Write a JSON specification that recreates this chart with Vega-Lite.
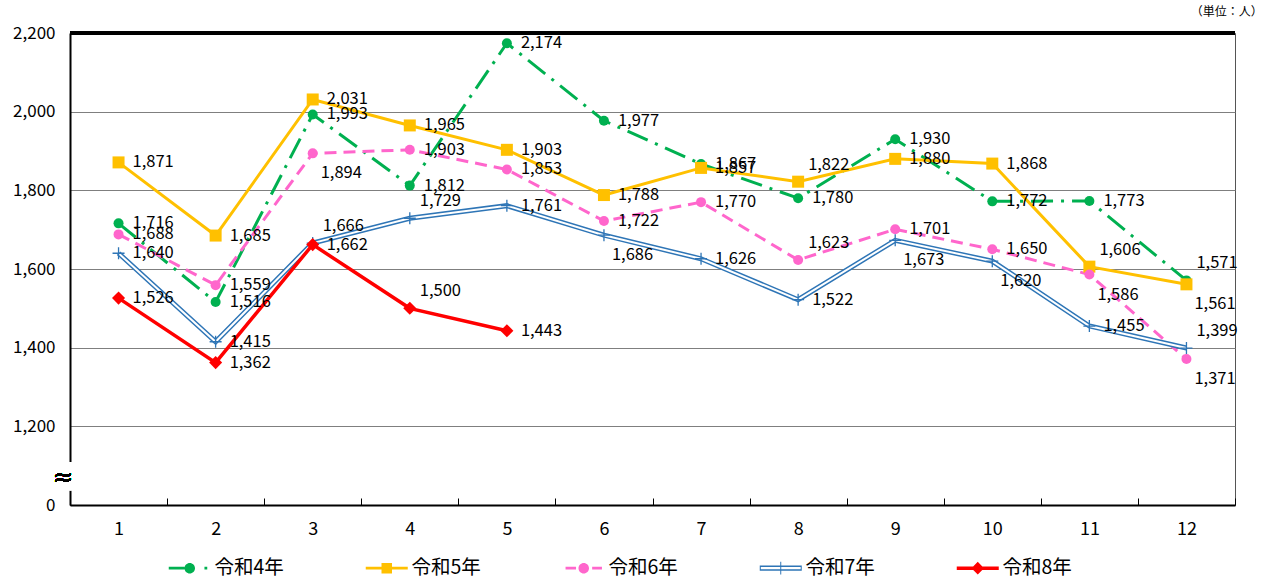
{
  "$schema": "https://vega.github.io/schema/vega-lite/v6.json",
  "width": 1165,
  "height": 472,
  "autosize": {"type": "none"},
  "padding": {"left": 70, "top": 33, "right": 30, "bottom": 77},
  "background": "white",
  "config": {
    "font": "Noto Sans CJK JP",
    "view": {"stroke": "#555555", "strokeWidth": 1},
    "axis": {"labelFont": "Noto Sans CJK JP", "labelColor": "#000000", "title": null}
  },
  "title": {"text": "（単位：人）", "anchor": "end", "fontSize": 12, "fontWeight": "normal", "font": "Noto Sans CJK JP", "color": "#000000", "dx": 25, "offset": 5},
  "data": {"values": [
    {"s": "令和4年", "m": 1, "v": 1716}, {"s": "令和4年", "m": 2, "v": 1516}, {"s": "令和4年", "m": 3, "v": 1993}, {"s": "令和4年", "m": 4, "v": 1812},
    {"s": "令和4年", "m": 5, "v": 2174}, {"s": "令和4年", "m": 6, "v": 1977}, {"s": "令和4年", "m": 7, "v": 1867}, {"s": "令和4年", "m": 8, "v": 1780},
    {"s": "令和4年", "m": 9, "v": 1930}, {"s": "令和4年", "m": 10, "v": 1772}, {"s": "令和4年", "m": 11, "v": 1773}, {"s": "令和4年", "m": 12, "v": 1571},
    {"s": "令和5年", "m": 1, "v": 1871}, {"s": "令和5年", "m": 2, "v": 1685}, {"s": "令和5年", "m": 3, "v": 2031}, {"s": "令和5年", "m": 4, "v": 1965},
    {"s": "令和5年", "m": 5, "v": 1903}, {"s": "令和5年", "m": 6, "v": 1788}, {"s": "令和5年", "m": 7, "v": 1857}, {"s": "令和5年", "m": 8, "v": 1822},
    {"s": "令和5年", "m": 9, "v": 1880}, {"s": "令和5年", "m": 10, "v": 1868}, {"s": "令和5年", "m": 11, "v": 1606}, {"s": "令和5年", "m": 12, "v": 1561},
    {"s": "令和6年", "m": 1, "v": 1688}, {"s": "令和6年", "m": 2, "v": 1559}, {"s": "令和6年", "m": 3, "v": 1894}, {"s": "令和6年", "m": 4, "v": 1903},
    {"s": "令和6年", "m": 5, "v": 1853}, {"s": "令和6年", "m": 6, "v": 1722}, {"s": "令和6年", "m": 7, "v": 1770}, {"s": "令和6年", "m": 8, "v": 1623},
    {"s": "令和6年", "m": 9, "v": 1701}, {"s": "令和6年", "m": 10, "v": 1650}, {"s": "令和6年", "m": 11, "v": 1586}, {"s": "令和6年", "m": 12, "v": 1371},
    {"s": "令和7年", "m": 1, "v": 1640}, {"s": "令和7年", "m": 2, "v": 1415}, {"s": "令和7年", "m": 3, "v": 1666}, {"s": "令和7年", "m": 4, "v": 1729},
    {"s": "令和7年", "m": 5, "v": 1761}, {"s": "令和7年", "m": 6, "v": 1686}, {"s": "令和7年", "m": 7, "v": 1626}, {"s": "令和7年", "m": 8, "v": 1522},
    {"s": "令和7年", "m": 9, "v": 1673}, {"s": "令和7年", "m": 10, "v": 1620}, {"s": "令和7年", "m": 11, "v": 1455}, {"s": "令和7年", "m": 12, "v": 1399},
    {"s": "令和8年", "m": 1, "v": 1526}, {"s": "令和8年", "m": 2, "v": 1362}, {"s": "令和8年", "m": 3, "v": 1662}, {"s": "令和8年", "m": 4, "v": 1500},
    {"s": "令和8年", "m": 5, "v": 1443}
  ]},
  "layer": [
    {
      "transform": [{"filter": "datum.s == '令和4年'"}],
      "mark": {"type": "line", "color": "#00B050", "strokeWidth": 3, "strokeDash": [22, 8, 3, 8]},
      "encoding": {
        "x": {"field": "m", "type": "ordinal", "bandPosition": 0.5,
          "scale": {"type": "band", "paddingInner": 0, "paddingOuter": 0, "domain": [1,2,3,4,5,6,7,8,9,10,11,12]},
          "axis": {"labelAngle": 0, "labelFontSize": 18, "tickBand": "extent", "tickSize": -7, "tickColor": "#000000", "tickWidth": 1, "domainColor": "#000000", "domainWidth": 2, "labelPadding": 22, "grid": false, "zindex": 0}},
        "y": {"field": "v", "type": "quantitative",
          "scale": {"domain": [1000, 2200], "nice": false, "zero": false},
          "axis": {"values": [1000, 1200, 1400, 1600, 1800, 2000, 2200],
            "labelExpr": "datum.value == 1000 ? '0' : format(datum.value, ',')",
            "labelFontSize": 17, "labelPadding": 15,
            "ticks": false, "domainColor": "#000000", "domainWidth": 2, "zindex": 0,
            "grid": true, "gridColor": "#7f7f7f", "gridWidth": 1.2,
            "gridOpacity": {"condition": {"test": "datum.value == 1000", "value": 0}, "value": 1}}}
      }
    },
    {
      "mark": {"type": "rule", "color": "#000000", "strokeWidth": 2.5},
      "encoding": {"y": {"datum": 2200, "type": "quantitative"}}
    },
    {
      "mark": {"type": "rule", "color": "#ffffff", "strokeWidth": 5},
      "encoding": {
        "x": {"datum": 1, "type": "ordinal", "bandPosition": 0},
        "y": {"datum": 1038, "type": "quantitative"},
        "y2": {"datum": 1109}
      }
    },
    {
      "mark": {"type": "text", "text": "≈", "fontSize": 24, "font": "DejaVu Sans", "color": "#000000", "align": "center", "baseline": "middle", "dx": -7},
      "encoding": {
        "x": {"datum": 1, "type": "ordinal", "bandPosition": 0},
        "y": {"datum": 1069, "type": "quantitative"}
      }
    },
    {
      "transform": [{"filter": "datum.s == '令和5年'"}],
      "mark": {"type": "line", "color": "#FFC000", "strokeWidth": 3},
      "encoding": {"x": {"field": "m", "type": "ordinal", "bandPosition": 0.5}, "y": {"field": "v", "type": "quantitative"}}
    },
    {
      "transform": [{"filter": "datum.s == '令和6年'"}],
      "mark": {"type": "line", "color": "#FF66CC", "strokeWidth": 3, "strokeDash": [12, 7]},
      "encoding": {"x": {"field": "m", "type": "ordinal", "bandPosition": 0.5}, "y": {"field": "v", "type": "quantitative"}}
    },
    {
      "transform": [{"filter": "datum.s == '令和7年'"}],
      "mark": {"type": "line", "color": "#2E75B6", "strokeWidth": 5},
      "encoding": {"x": {"field": "m", "type": "ordinal", "bandPosition": 0.5}, "y": {"field": "v", "type": "quantitative"}}
    },
    {
      "transform": [{"filter": "datum.s == '令和7年'"}],
      "mark": {"type": "line", "color": "#ffffff", "strokeWidth": 2},
      "encoding": {"x": {"field": "m", "type": "ordinal", "bandPosition": 0.5}, "y": {"field": "v", "type": "quantitative"}}
    },
    {
      "transform": [{"filter": "datum.s == '令和8年'"}],
      "mark": {"type": "line", "color": "#FF0000", "strokeWidth": 3.5},
      "encoding": {"x": {"field": "m", "type": "ordinal", "bandPosition": 0.5}, "y": {"field": "v", "type": "quantitative"}}
    },
    {
      "transform": [{"filter": "datum.s == '令和4年'"}],
      "mark": {"type": "point", "shape": "circle", "filled": true, "color": "#00B050", "size": 100, "opacity": 1},
      "encoding": {"x": {"field": "m", "type": "ordinal", "bandPosition": 0.5}, "y": {"field": "v", "type": "quantitative"}}
    },
    {
      "transform": [{"filter": "datum.s == '令和5年'"}],
      "mark": {"type": "point", "shape": "square", "filled": true, "color": "#FFC000", "size": 144, "opacity": 1},
      "encoding": {"x": {"field": "m", "type": "ordinal", "bandPosition": 0.5}, "y": {"field": "v", "type": "quantitative"}}
    },
    {
      "transform": [{"filter": "datum.s == '令和6年'"}],
      "mark": {"type": "point", "shape": "circle", "filled": true, "color": "#FF66CC", "size": 100, "opacity": 1},
      "encoding": {"x": {"field": "m", "type": "ordinal", "bandPosition": 0.5}, "y": {"field": "v", "type": "quantitative"}}
    },
    {
      "transform": [{"filter": "datum.s == '令和7年'"}],
      "mark": {"type": "point", "shape": "M-1,0H1M0,-1V1", "filled": false, "color": "#2E75B6", "strokeWidth": 1.3, "size": 144, "opacity": 1},
      "encoding": {"x": {"field": "m", "type": "ordinal", "bandPosition": 0.5}, "y": {"field": "v", "type": "quantitative"}}
    },
    {
      "transform": [{"filter": "datum.s == '令和8年'"}],
      "mark": {"type": "point", "shape": "diamond", "filled": true, "color": "#FF0000", "size": 170, "opacity": 1},
      "encoding": {"x": {"field": "m", "type": "ordinal", "bandPosition": 0.5}, "y": {"field": "v", "type": "quantitative"}}
    },
    {
      "mark": {"type": "point", "filled": true, "opacity": 0, "size": 196},
      "encoding": {
        "x": {"field": "m", "type": "ordinal", "bandPosition": 0.5},
        "y": {"field": "v", "type": "quantitative"},
        "color": {"field": "s", "type": "nominal",
          "scale": {"domain": ["令和4年", "令和5年", "令和6年", "令和7年", "令和8年"], "range": ["#00B050", "#FFC000", "#FF66CC", "#2E75B6", "#FF0000"]},
          "legend": {"title": null, "orient": "none", "legendX": 96, "legendY": 525, "direction": "horizontal", "columns": 5, "columnPadding": 79, "symbolSize": 196, "symbolStrokeWidth": 0, "symbolOpacity": 1, "labelFontSize": 19.5, "labelFont": "Noto Sans CJK JP", "labelColor": "#000000", "labelOffset": 29, "labelLimit": 200}},
        "shape": {"field": "s", "type": "nominal",
          "scale": {"domain": ["令和4年", "令和5年", "令和6年", "令和7年", "令和8年"],
            "range": [
              "M-1,-0.21H1.25V0.21H-1Z M1.25,0A0.75,0.75 0 1,0 2.75,0A0.75,0.75 0 1,0 1.25,0Z M4.1,-0.21H4.5V0.21H4.1Z",
              "M-1,-0.21H5V0.21H-1Z M1.25,-0.75H2.75V0.75H1.25Z",
              "M-0.6,-0.21H0.9V0.21H-0.6Z M1.25,0A0.75,0.75 0 1,0 2.75,0A0.75,0.75 0 1,0 1.25,0Z M3.2,-0.21H4.6V0.21H3.2Z",
              "M-1,-0.38H5V0.38H-1Z M-0.85,-0.16V0.16H4.85V-0.16Z M1.93,-0.9H2.07V0.9H1.93Z",
              "M-1,-0.25H5V0.25H-1Z M2,-0.9L2.9,0L2,0.9L1.1,0Z"
            ]},
          "legend": {"title": null, "orient": "none", "legendX": 96, "legendY": 525, "direction": "horizontal", "columns": 5, "columnPadding": 79, "symbolSize": 196, "symbolStrokeWidth": 0, "symbolOpacity": 1, "labelFontSize": 19.5, "labelFont": "Noto Sans CJK JP", "labelColor": "#000000", "labelOffset": 29, "labelLimit": 200}}
      }
    },
    {
      "transform": [{"filter": "indexof(['令和4年-12','令和5年-8','令和5年-11','令和6年-8','令和7年-3','令和7年-4','令和7年-12','令和8年-4','令和5年-12','令和6年-3','令和6年-11','令和6年-12','令和7年-6','令和7年-9','令和7年-10'], datum.s + '-' + datum.m) < 0"}],
      "mark": {"type": "text", "align": "left", "baseline": "middle", "dx": 14, "fontSize": 16.5, "font": "Noto Sans CJK JP", "color": "#000000"},
      "encoding": {"x": {"field": "m", "type": "ordinal", "bandPosition": 0.5}, "y": {"field": "v", "type": "quantitative"}, "text": {"field": "v", "type": "quantitative", "format": ","}}
    },
    {
      "transform": [{"filter": "indexof(['令和4年-12','令和5年-8','令和5年-11','令和6年-8','令和7年-3','令和7年-4','令和7年-12','令和8年-4'], datum.s + '-' + datum.m) >= 0"}],
      "mark": {"type": "text", "align": "left", "baseline": "middle", "dx": 10, "dy": -17, "fontSize": 16.5, "font": "Noto Sans CJK JP", "color": "#000000"},
      "encoding": {"x": {"field": "m", "type": "ordinal", "bandPosition": 0.5}, "y": {"field": "v", "type": "quantitative"}, "text": {"field": "v", "type": "quantitative", "format": ","}}
    },
    {
      "transform": [{"filter": "indexof(['令和5年-12','令和6年-3','令和6年-11','令和6年-12','令和7年-6','令和7年-9','令和7年-10'], datum.s + '-' + datum.m) >= 0"}],
      "mark": {"type": "text", "align": "left", "baseline": "middle", "dx": 8, "dy": 20, "fontSize": 16.5, "font": "Noto Sans CJK JP", "color": "#000000"},
      "encoding": {"x": {"field": "m", "type": "ordinal", "bandPosition": 0.5}, "y": {"field": "v", "type": "quantitative"}, "text": {"field": "v", "type": "quantitative", "format": ","}}
    }
  ]
}
